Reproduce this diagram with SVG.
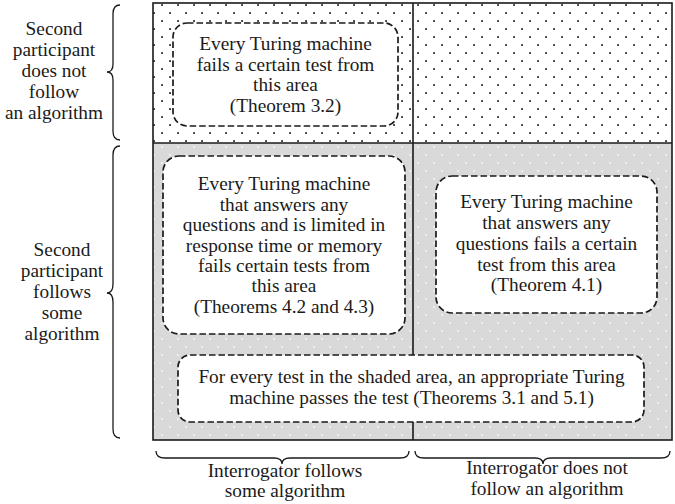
<svg xmlns="http://www.w3.org/2000/svg" width="675" height="504" viewBox="0 0 675 504">
<style>
  .t { font-family: "Liberation Serif", "Times New Roman", serif; font-size: 19.3px; fill: #1a1a1a; text-anchor: middle; }
  .box { fill: #ffffff; stroke: #1a1a1a; stroke-width: 1.7; stroke-dasharray: 6.5 3; }
  .frame { fill: none; stroke: #1a1a1a; stroke-width: 1.6; }
  .brace { fill: none; stroke: #1a1a1a; stroke-width: 1.3; }
</style>
<defs>
  <pattern id="dotsBlack" patternUnits="userSpaceOnUse" x="0" y="0" width="16" height="16">
    <rect width="16" height="16" fill="#ffffff"/>
    <rect x="1.2" y="4.2" width="1.7" height="1.7" fill="#111"/>
    <rect x="9.2" y="12.2" width="1.7" height="1.7" fill="#111"/>
  </pattern>
  <pattern id="dotsWhite" patternUnits="userSpaceOnUse" x="0" y="0" width="16" height="16">
    <rect width="16" height="16" fill="#d9d9d9"/>
    <rect x="1.3" y="2.3" width="1.5" height="1.5" fill="#ffffff"/>
    <rect x="9.3" y="10.3" width="1.5" height="1.5" fill="#ffffff"/>
  </pattern>
</defs>

<g id="area-top">
  <rect x="153" y="3" width="519" height="140" fill="url(#dotsBlack)"/>
</g>
<g id="area-bottom">
  <rect x="153" y="143" width="519" height="297" fill="url(#dotsWhite)"/>
</g>

<g id="connectors">
  <rect class="frame" x="153" y="3" width="519" height="437"/>
  <line class="frame" x1="153" y1="143" x2="672" y2="143"/>
  <line class="frame" x1="413" y1="3" x2="413" y2="440"/>
  <path class="brace" d="M120,5 Q113,5 113,14 L113,64 Q113,72 107,72 Q113,72 113,80 L113,131 Q113,140 120,140"/>
  <path class="brace" d="M120,146 Q113,146 113,155 L113,284 Q113,293 107,293 Q113,293 113,302 L113,429 Q113,438 120,438"/>
  <path class="brace" d="M156,451 Q156,458 165,458 L274,458 Q282,458 282,464 Q282,458 290,458 L400,458 Q409,458 409,451"/>
  <path class="brace" d="M415,451 Q415,458 424,458 L535,458 Q543,458 543,464 Q543,458 551,458 L661,458 Q670,458 670,451"/>
</g>

<g id="label-top-left">
  <text class="t" x="54" y="35">Second</text>
  <text class="t" x="54" y="56">participant</text>
  <text class="t" x="54" y="77">does not</text>
  <text class="t" x="54" y="98">follow</text>
  <text class="t" x="54" y="119">an algorithm</text>
</g>
<g id="label-bottom-left">
  <text class="t" x="62" y="256">Second</text>
  <text class="t" x="62" y="277">participant</text>
  <text class="t" x="62" y="298">follows</text>
  <text class="t" x="62" y="319">some</text>
  <text class="t" x="62" y="340">algorithm</text>
</g>
<g id="label-interrogator-alg">
  <text class="t" x="285" y="477">Interrogator follows</text>
  <text class="t" x="285" y="497">some algorithm</text>
</g>
<g id="label-interrogator-nonalg">
  <text class="t" x="547" y="474">Interrogator does not</text>
  <text class="t" x="547" y="495">follow an algorithm</text>
</g>

<g id="box-theorem32">
  <rect class="box" x="173" y="23" width="225" height="103" rx="14"/>
  <text class="t" x="285.5" y="50">Every Turing machine</text>
  <text class="t" x="285.5" y="70.7">fails a certain test from</text>
  <text class="t" x="285.5" y="91.3">this area</text>
  <text class="t" x="285.5" y="112">(Theorem 3.2)</text>
</g>
<g id="box-theorem42-43">
  <rect class="box" x="163" y="156" width="242" height="178" rx="16"/>
  <text class="t" x="284" y="190">Every Turing machine</text>
  <text class="t" x="284" y="210.5">that answers any</text>
  <text class="t" x="284" y="231">questions and is limited in</text>
  <text class="t" x="284" y="251.5">response time or memory</text>
  <text class="t" x="284" y="272">fails certain tests from</text>
  <text class="t" x="284" y="292.3">this area</text>
  <text class="t" x="284" y="312.7">(Theorems 4.2 and 4.3)</text>
</g>
<g id="box-theorem41">
  <rect class="box" x="436" y="176" width="221" height="137" rx="16"/>
  <text class="t" x="546.5" y="208.3">Every Turing machine</text>
  <text class="t" x="546.5" y="229.2">that answers any</text>
  <text class="t" x="546.5" y="250">questions fails a certain</text>
  <text class="t" x="546.5" y="270.7">test from this area</text>
  <text class="t" x="546.5" y="291">(Theorem 4.1)</text>
</g>
<g id="box-theorem31-51">
  <rect class="box" x="178" y="355" width="466" height="67" rx="12"/>
  <text class="t" x="411.5" y="383.3">For every test in the shaded area, an appropriate Turing</text>
  <text class="t" x="411.5" y="404">machine passes the test (Theorems 3.1 and 5.1)</text>
</g>
</svg>
